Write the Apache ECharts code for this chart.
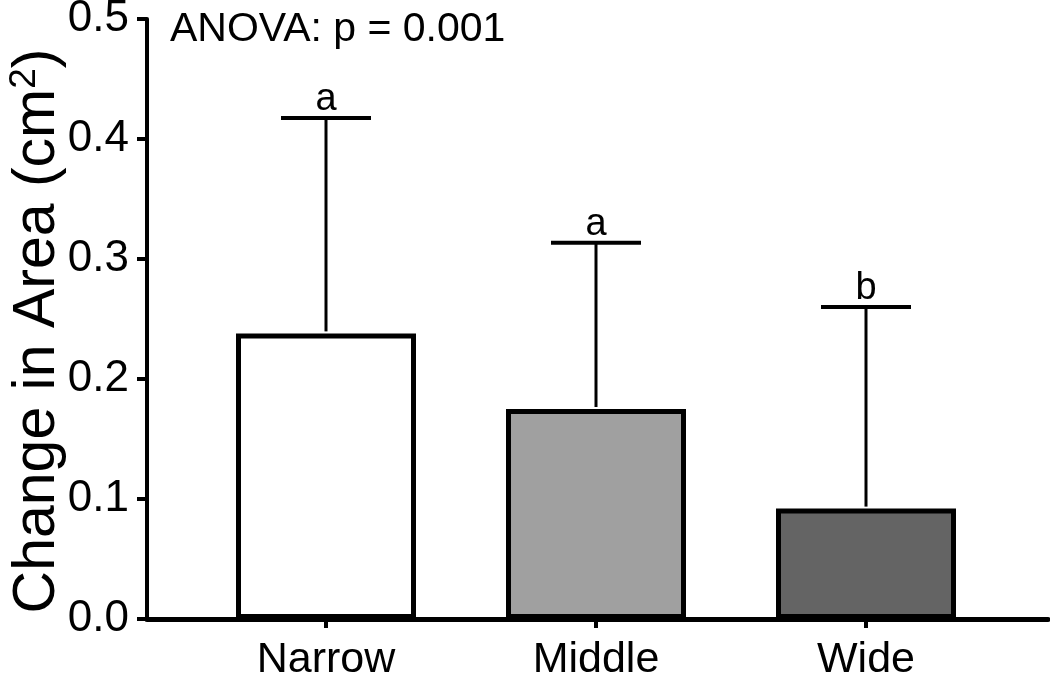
<!DOCTYPE html>
<html>
<head>
<meta charset="utf-8">
<script src="https://cdn.jsdelivr.net/npm/echarts@6/dist/echarts.min.js"></script>
<style>
html,body{margin:0;padding:0;background:#fff;}
#chart{width:1050px;height:677px;}
</style>
</head>
<body>
<div id="chart"></div>
<script>
const categories = ['Narrow', 'Middle', 'Wide'];
const means = [0.238, 0.175, 0.092];
const sds = [0.1795, 0.1385, 0.168];
const letters = ['a', 'a', 'b'];
const barColors = ['#ffffff', '#a0a0a0', '#646464'];
const yTicks = [0, 0.1, 0.2, 0.3, 0.4, 0.5];
const annotation = 'ANOVA: p = 0.001';

const FONT = 'Liberation Sans, Arial, Helvetica, sans-serif';
const chart = echarts.init(document.getElementById('chart'));

const errData = categories.map((c, i) => [i, means[i], means[i] + sds[i], letters[i]]);

const option = {
  animation: false,
  backgroundColor: '#ffffff',
  title: {
    text: annotation,
    left: 165, top: 4,
    textStyle: {fontFamily: FONT, fontSize: 41, fontWeight: 'normal', color: '#000'}
  },
  grid: [
    {left: 147, right: 2, top: 19, bottom: 58, containLabel: false, outerBoundsMode: 'none'},
    {left: 191, right: 49, top: 19, bottom: 58, containLabel: false, outerBoundsMode: 'none'}
  ],
  xAxis: [
    {
      gridIndex: 0, type: 'value', min: 0, max: 1,
      axisLine: {show: true, lineStyle: {color: '#000', width: 5}},
      axisTick: {show: false}, axisLabel: {show: false}, splitLine: {show: false}
    },
    {
      gridIndex: 1, type: 'category', data: categories,
      axisLine: {show: false},
      axisTick: {show: true, alignWithLabel: true, length: 9, lineStyle: {color: '#000', width: 4}},
      axisLabel: {fontFamily: FONT, fontSize: 43, color: '#000', margin: 20},
      splitLine: {show: false}
    }
  ],
  yAxis: [
    {
      gridIndex: 0, type: 'value', min: 0, max: 0.5, interval: 0.1,
      axisLine: {show: true, lineStyle: {color: '#000', width: 4}},
      axisTick: {show: true, length: 10, lineStyle: {color: '#000', width: 4}},
      axisLabel: {fontFamily: FONT, fontSize: 44, color: '#000', margin: 18,
        formatter: v => v.toFixed(1)},
      splitLine: {show: false},
      name: 'Change in Area (cm{sup|2})',
      nameLocation: 'middle',
      nameGap: 77,
      nameMoveOverlap: false,
      nameTextStyle: {
        fontFamily: FONT, fontSize: 59, color: '#000', lineHeight: 64,
        padding: [0, 24, 0, 0],
        rich: {sup: {fontFamily: FONT, fontSize: 37, lineHeight: 36, verticalAlign: 'top', color: '#000'}}
      }
    },
    {
      gridIndex: 1, type: 'value', min: 0, max: 0.5, interval: 0.1, show: false
    }
  ],
  series: [
    {
      type: 'bar', xAxisIndex: 1, yAxisIndex: 1,
      barWidth: 180,
      data: means.map((v, i) => ({value: v, itemStyle: {color: barColors[i]}})),
      itemStyle: {borderColor: '#000', borderWidth: 5},
      z: 2
    },
    {
      type: 'custom', xAxisIndex: 1, yAxisIndex: 1,
      data: errData,
      z: 3,
      renderItem: function (params, api) {
        const x = api.value(0);
        const lo = api.coord([x, api.value(1)]);
        const hi = api.coord([x, api.value(2)]);
        const half = 45;
        return {
          type: 'group',
          children: [
            {type: 'line', shape: {x1: lo[0], y1: lo[1] - 2, x2: hi[0], y2: hi[1]},
              style: {stroke: '#000', lineWidth: 3}},
            {type: 'line', shape: {x1: hi[0] - half, y1: hi[1], x2: hi[0] + half, y2: hi[1]},
              style: {stroke: '#000', lineWidth: 4}},
            {type: 'text', style: {text: api.value(3), x: hi[0], y: hi[1] + 1,
              textAlign: 'center', textVerticalAlign: 'bottom',
              font: '38px ' + FONT, fill: '#000'}}
          ]
        };
      }
    }
  ]
};
chart.setOption(option);
</script>
</body>
</html>
